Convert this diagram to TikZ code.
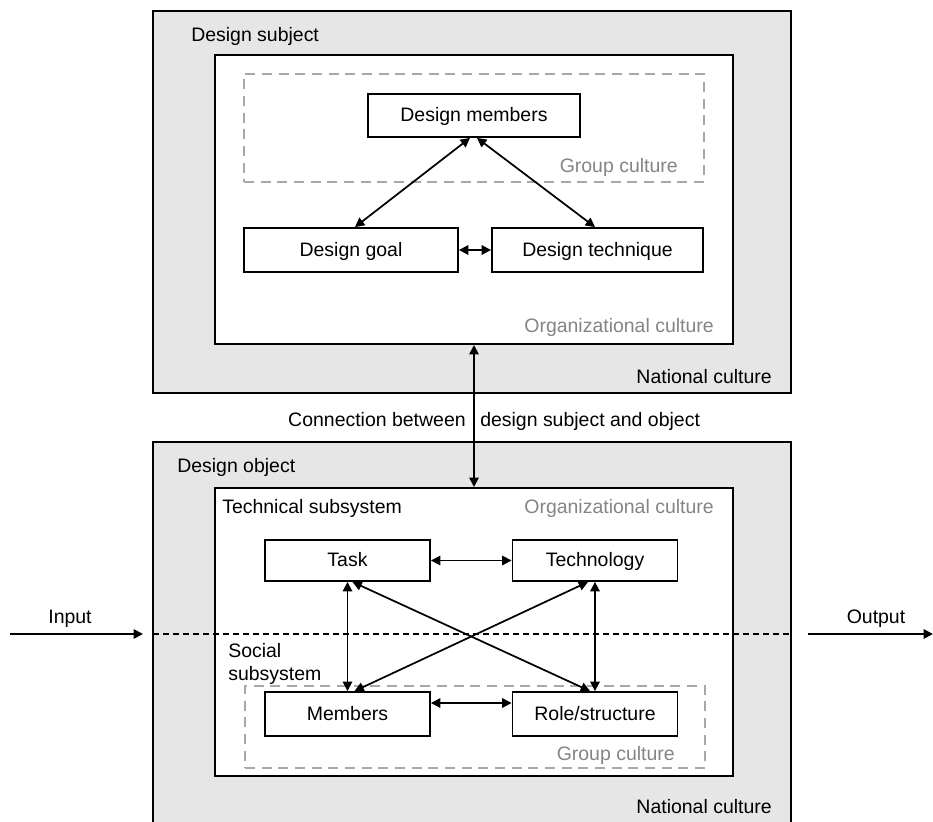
\documentclass[tikz,border=0pt]{standalone}
\usepackage{fontspec}
\setmainfont{Liberation Sans}
\usetikzlibrary{arrows.meta,fit}
\definecolor{panelgray}{HTML}{E6E6E6}
\definecolor{notegray}{HTML}{858585}
\definecolor{dashgray}{HTML}{A8A8A8}
\def\pxu{0.75pt}
\begin{document}
\begin{tikzpicture}[x=0.75pt,y=-0.75pt,
  font=\fontsize{14.6}{17.5}\selectfont,
  panel/.style={draw=black,line width=1.5pt,fill=panelgray,inner sep=0pt},
  inner/.style={draw=black,line width=1.5pt,fill=white,inner sep=0pt},
  group/.style={draw=dashgray,line width=1.4pt,dash pattern=on 7.5pt off 5pt,inner sep=0pt},
  stepbox/.style={draw=black,line width=1.4pt,fill=white,inner sep=0pt,text height=11.5pt,text depth=2pt},
  conn/.style={line width=1.3pt,{Triangle[length=7pt,width=7pt]}-{Triangle[length=7pt,width=7pt]}},
  flow/.style={line width=1.3pt,-{Triangle[length=7pt,width=7pt]}},
  divider/.style={line width=0.8pt,dash pattern=on 4.5pt off 3pt},
  txt/.style={inner sep=0pt},
  note/.style={inner sep=0pt,text=notegray}]
\useasboundingbox (0,0) rectangle (933,822);
\clip (0,0) rectangle (933,822);

% ---------- design subject ----------
\node[panel,fit={(153,11) (791,393)}] (outerTop) {};
\node[inner,fit={(215,55) (733,344)}] (innerTop) {};
\node[group,fit={(244,74) (704,182)}] (groupTop) {};
\node[txt,anchor=base west] (subjTitle) at (191,41) {Design subject};
\node[note,anchor=base east] (groupTopTxt) at (678,172) {Group culture};
\node[note,anchor=base east] (orgTopTxt) at (714,332) {Organizational culture};
\node[txt,anchor=base east] (natTopTxt) at (772,383) {National culture};

\node[stepbox,minimum width=212*\pxu,minimum height=43*\pxu] (members) at (474,115.5) {Design members};
\node[stepbox,minimum width=214*\pxu,minimum height=44*\pxu] (goal) at (351,250) {Design goal};
\node[stepbox,minimum width=211*\pxu,minimum height=44*\pxu] (technique) at (597.5,250) {Design technique};

\draw[conn] ([xshift=-4*\pxu]members.south) -- ([xshift=4*\pxu]goal.north);
\draw[conn] ([xshift=3*\pxu]members.south) -- ([xshift=-2.5*\pxu]technique.north);
\draw[conn] (goal.east) -- (technique.west);

% ---------- design object ----------
\node[panel,fit={(153,442) (791,860)}] (outerBot) {};
\node[inner,fit={(215,488) (733,776)}] (innerBot) {};
\node[group,fit={(245,686) (705,768)}] (groupBot) {};
\node[txt,anchor=base west] (objTitle) at (177,472) {Design object};
\node[txt,anchor=base west] (techSub) at (222,513) {Technical subsystem};
\node[note,anchor=base east] (orgBotTxt) at (714,513) {Organizational culture};
\node[txt,anchor=base west] (socSub1) at (228,657) {Social};
\node[txt,anchor=base west] (socSub2) at (228,680) {subsystem};
\node[note,anchor=base east] (groupBotTxt) at (675,760) {Group culture};
\node[txt,anchor=base east] (natBotTxt) at (772,813) {National culture};

% subject--object link
\draw[conn] (innerTop.south) -- (innerBot.north);
\node[txt,anchor=base east] (linkL) at (466,426) {Connection between};
\node[txt,anchor=base west] (linkR) at (480,426) {design subject and object};

% boundary between the two subsystems
\coordinate (divL) at (153,634);
\coordinate (divR) at (791,634);
\draw[divider] (divL) -- (divR);

\node[stepbox,minimum width=165*\pxu,minimum height=41*\pxu] (task) at (347.5,560.5) {Task};
\node[stepbox,minimum width=165*\pxu,minimum height=41*\pxu] (tech) at (595,560.5) {Technology};
\node[stepbox,minimum width=165*\pxu,minimum height=44*\pxu] (memb) at (347.5,714) {Members};
\node[stepbox,minimum width=165*\pxu,minimum height=44*\pxu] (role) at (595,714) {Role/structure};

\draw[conn] (task.east) -- (tech.west);
\draw[conn] (task.south) -- (memb.north);
\draw[conn] (tech.south) -- (role.north);
\draw[conn] ([xshift=5*\pxu]task.south) -- ([xshift=-5*\pxu]role.north);
\draw[conn] ([xshift=-7*\pxu]tech.south) -- ([xshift=7*\pxu]memb.north);
\draw[conn] ([yshift=11*\pxu]memb.east) -- ([yshift=11*\pxu]role.west);

% input and output
\coordinate (inStart) at (10,634);
\coordinate (inEnd) at (143,634);
\coordinate (outStart) at (808,634);
\coordinate (outEnd) at (933,634);
\draw[flow] (inStart) -- (inEnd);
\draw[flow] (outStart) -- (outEnd);
\node[txt,anchor=base] (inTxt) at (70,623) {Input};
\node[txt,anchor=base] (outTxt) at (876,623) {Output};
\end{tikzpicture}
\end{document}
